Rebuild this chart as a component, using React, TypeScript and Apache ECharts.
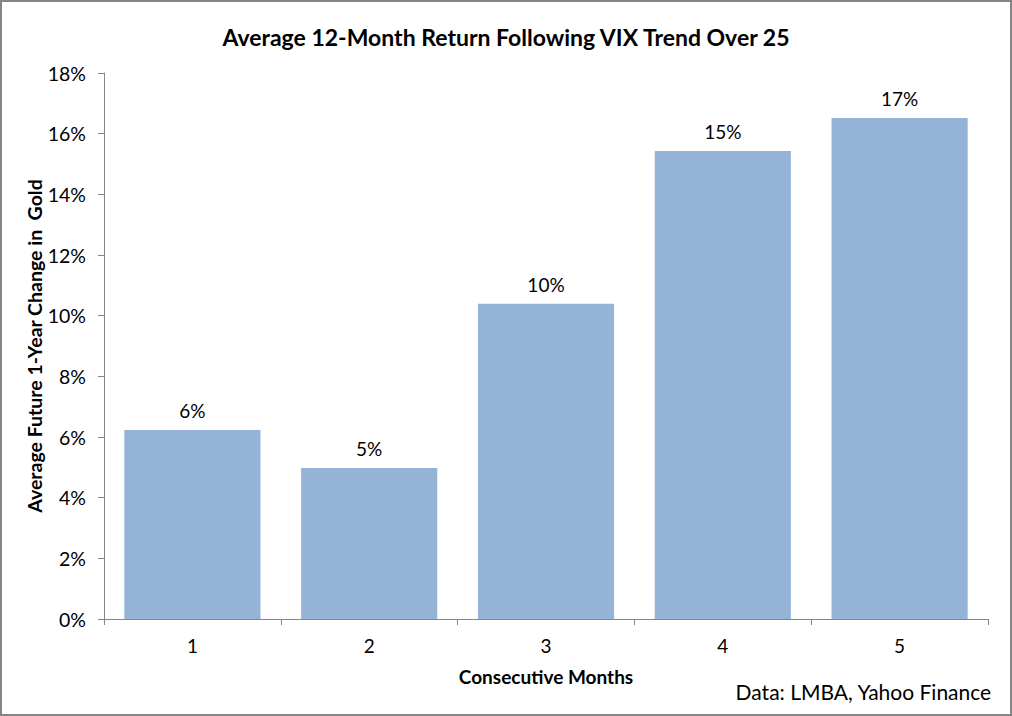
import React, { useEffect, useRef } from "react";
import * as echarts from "echarts";

const categories = ["1", "2", "3", "4", "5"];
const values = [6.23, 4.98, 10.39, 15.43, 16.52];
const yTicks = { min: 0, max: 18, interval: 2 };
const titleText = "Average 12-Month Return Following VIX Trend Over 25";
const yName = "Average Future 1-Year Change in  Gold";
const xName = "Consecutive Months";
const sourceText = "Data: LMBA, Yahoo Finance";

const FONT = "Lato, 'Open Sans', sans-serif";

export default function App() {
  const ref = useRef<HTMLDivElement>(null);
  useEffect(() => {
    document.body.style.margin = "0";
    const chart = echarts.init(ref.current!, null, { renderer: "svg" });
    chart.setOption({
      animation: false,
      backgroundColor: "#ffffff",
      textStyle: { fontFamily: FONT },
      title: {
        text: titleText,
        left: "center",
        top: 20,
        textStyle: { fontFamily: FONT, fontSize: 23, fontWeight: "bold", color: "#000" },
      },
      graphic: [
        {
          type: "rect",
          shape: { x: 1, y: 1, width: 1010, height: 714 },
          style: { fill: "none", stroke: "#868686", lineWidth: 2 },
          silent: true,
        },
        {
          type: "text",
          right: 20,
          top: 681,
          style: { text: sourceText, fontFamily: FONT, fontSize: 21, fill: "#000" },
        },
      ],
      grid: { left: 104, right: 24, top: 73, bottom: 97 },
      xAxis: {
        type: "category",
        data: categories,
        name: xName,
        nameLocation: "middle",
        nameGap: 48,
        nameTextStyle: { fontFamily: FONT, fontSize: 19, fontWeight: "bold", color: "#000" },
        axisLine: { lineStyle: { color: "#868686", width: 1 } },
        axisTick: { show: true, alignWithLabel: false, length: 6, lineStyle: { color: "#868686" } },
        axisLabel: { fontFamily: FONT, fontSize: 19, color: "#000", margin: 17 },
      },
      yAxis: {
        type: "value",
        min: yTicks.min,
        max: yTicks.max,
        interval: yTicks.interval,
        name: yName,
        nameLocation: "middle",
        nameGap: 60,
        nameMoveOverlap: false,
        nameTextStyle: { fontFamily: FONT, fontSize: 19.5, fontWeight: "bold", color: "#000" },
        axisLine: { show: true, lineStyle: { color: "#868686", width: 1 } },
        axisTick: { show: true, length: 6, lineStyle: { color: "#868686" } },
        splitLine: { show: false },
        axisLabel: { fontFamily: FONT, fontSize: 19.5, color: "#000", margin: 18, formatter: "{value}%" },
      },
      series: [
        {
          type: "bar",
          data: values,
          barCategoryGap: "23%",
          itemStyle: { color: "#95B3D7" },
          label: {
            show: true,
            position: "top",
            distance: 10,
            fontFamily: FONT,
            fontSize: 19,
            color: "#000",
            formatter: (p: any) => Math.round(p.value) + "%",
          },
        },
      ],
    });
    return () => chart.dispose();
  }, []);
  return <div ref={ref} style={{ width: 1012, height: 716 }} />;
}
